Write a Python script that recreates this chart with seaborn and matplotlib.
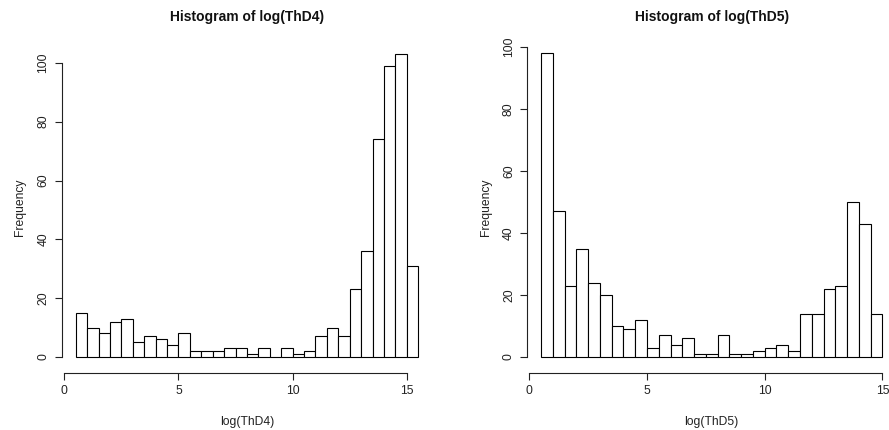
import numpy as np
import pandas as pd
import matplotlib
matplotlib.use("Agg")
import matplotlib.pyplot as plt
import seaborn as sns

# Histogram counts (breaks every 0.5)
thd4_breaks = np.arange(0.5, 15.51, 0.5)
thd4_counts = [15, 10, 8, 12, 13, 5, 7, 6, 4, 8,
               2, 2, 2, 3, 3, 1, 3, 0, 3, 1,
               2, 7, 10, 7, 23, 36, 74, 99, 103, 31]

thd5_breaks = np.arange(0.5, 15.01, 0.5)
thd5_counts = [98, 47, 23, 35, 24, 20, 10, 9, 12, 3,
               7, 4, 6, 1, 1, 7, 1, 1, 2, 3,
               4, 2, 14, 14, 22, 23, 50, 43, 14]

x_ticks = [0, 5, 10, 15]
y_ticks = [0, 20, 40, 60, 80, 100]

sns.set_style("ticks")
plt.rcParams['font.family'] = ['Liberation Sans', 'DejaVu Sans']

fig = plt.figure(figsize=(8.89, 4.30), dpi=100)
ax1 = fig.add_axes([0.0697, 0.1326, 0.4162, 0.7698])
ax2 = fig.add_axes([0.5933, 0.1326, 0.4146, 0.7698])

panels = [
    (ax1, thd4_breaks, thd4_counts, "log(ThD4)", (-0.1, 16.1), (-5.44, 107.1)),
    (ax2, thd5_breaks, thd5_counts, "log(ThD5)", (-0.08, 15.58), (-5.17, 101.7)),
]

for ax, breaks, counts, name, xlim, ylim in panels:
    df = pd.DataFrame({"x": (breaks[:-1] + breaks[1:]) / 2, "n": counts})
    sns.histplot(data=df, x="x", weights="n", bins=list(breaks), stat="count",
                 color="white", edgecolor="black", linewidth=0.8, alpha=1, ax=ax)
    ax.set_xlim(*xlim)
    ax.set_ylim(*ylim)
    ax.set_xticks(x_ticks)
    ax.set_yticks(y_ticks)
    for s in ["top", "right"]:
        ax.spines[s].set_visible(False)
    ax.spines["bottom"].set_bounds(0, 15)
    ax.spines["left"].set_bounds(0, 100)
    for s in ["bottom", "left"]:
        ax.spines[s].set_color("#222222")
        ax.spines[s].set_linewidth(0.8)
    ax.tick_params(axis="both", length=5, width=0.8, color="#222222",
                   labelsize=8.7, labelcolor="#222222")
    ax.tick_params(axis="x", pad=4)
    ax.tick_params(axis="y", pad=4)
    for lab in ax.get_yticklabels():
        lab.set_rotation(90)
        lab.set_va("center")
    ax.set_xlabel(name, fontsize=8.7, color="#222222", labelpad=13)
    ax.set_ylabel("Frequency", fontsize=8.7, color="#222222", labelpad=8)
    ax.set_title("Histogram of " + name, fontsize=10, fontweight="bold",
                 color="#111111", pad=15)
    ax.grid(False)

fig.savefig("out.png", dpi=100)
